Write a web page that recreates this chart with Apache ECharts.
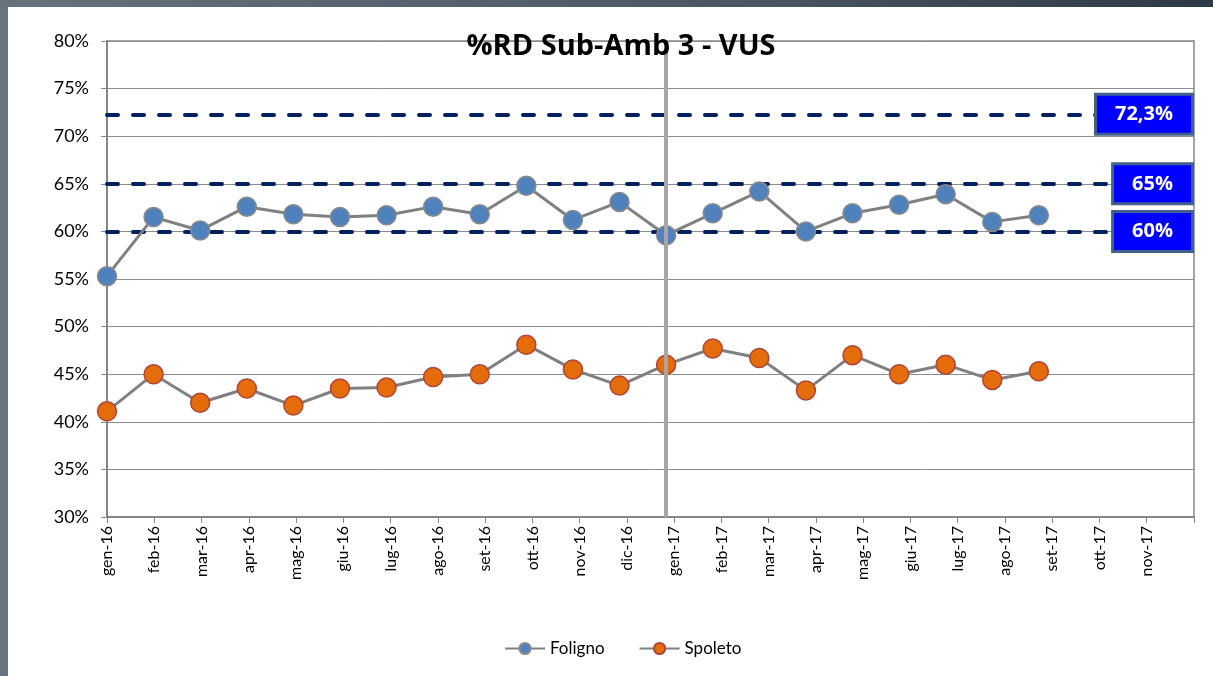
<!DOCTYPE html>
<html>
<head>
<meta charset="utf-8">
<script src="https://cdn.jsdelivr.net/npm/echarts@6/dist/echarts.min.js"></script>
<style>
  html, body { margin: 0; padding: 0; }
  body { width: 1213px; height: 676px; background: #68757f; position: relative; overflow: hidden; }
  #topbar { position: absolute; left: 0; top: 0; width: 1213px; height: 7px;
            background: linear-gradient(to right, #66727d, #4a5866 60%, #2c3a47); }
  #chart { position: absolute; left: 8px; top: 7px; width: 1205px; height: 669px; background: #fff; }
</style>
</head>
<body>
<div id="topbar"></div>
<div id="chart"></div>
<script>
// mesi sull'asse (l'ultimo slot resta vuoto)
var months = ['gen-16','feb-16','mar-16','apr-16','mag-16','giu-16','lug-16','ago-16','set-16','ott-16','nov-16','dic-16',
              'gen-17','feb-17','mar-17','apr-17','mag-17','giu-17','lug-17','ago-17','set-17','ott-17','nov-17',''];

var foligno = [55.3, 61.5, 60.1, 62.6, 61.8, 61.5, 61.7, 62.6, 61.8, 64.8, 61.2, 63.1,
               59.6, 61.9, 64.2, 60.0, 61.9, 62.8, 63.9, 61.0, 61.7];
var spoleto = [41.1, 45.0, 42.0, 43.5, 41.7, 43.5, 43.6, 44.7, 45.0, 48.1, 45.5, 43.8,
               46.0, 47.7, 46.7, 43.3, 47.0, 45.0, 46.0, 44.4, 45.3];

// soglie di riferimento
var refValues = [72.3, 65, 60];
var refLabels = ['72,3%', '65%', '60%'];

var splitMonth = 'gen-17';

function toPoints(arr) {
  return arr.map(function (v, i) { return [i, v]; });
}

var font = 'Lato, "Liberation Sans", sans-serif';
var boldFont = '"Open Sans", Lato, sans-serif';

var chart = echarts.init(document.getElementById('chart'));

var option = {
  animation: false,
  title: {
    text: '%RD Sub-Amb 3 - VUS',
    left: 608,
    textAlign: 'center',
    top: 20,
    textStyle: { fontFamily: boldFont, fontSize: 29, fontWeight: 'bold', color: '#000' }
  },
  legend: {
    bottom: 14,
    left: 491,
    itemWidth: 40,
    itemHeight: 14,
    itemGap: 34,
    textStyle: { fontFamily: font, fontSize: 17, color: '#000' },
    data: ['Foligno', 'Spoleto']
  },
  grid: {
    left: 99, right: 19, top: 34, bottom: 159,
    show: true, borderColor: '#a6a6a6', borderWidth: 2
  },
  xAxis: [
    {
      type: 'category',
      data: months,
      boundaryGap: false,
      axisLine: { lineStyle: { color: '#868686', width: 2 } },
      axisTick: { show: true, interval: 0, length: 6, lineStyle: { color: '#868686' } },
      axisLabel: { interval: 0, rotate: 90, margin: 9, fontFamily: font, fontSize: 16, color: '#000' },
      splitLine: { show: false }
    },
    {
      type: 'value',
      min: 0,
      max: 23.33,
      show: false
    }
  ],
  yAxis: {
    type: 'value',
    min: 30,
    max: 80,
    interval: 5,
    axisLine: { show: true, lineStyle: { color: '#868686', width: 2 } },
    axisTick: { show: true, length: 6, lineStyle: { color: '#868686' } },
    axisLabel: { formatter: '{value}%', margin: 18, fontFamily: font, fontSize: 18, color: '#000' },
    splitLine: { lineStyle: { color: '#8c8c8c', width: 1 } }
  },
  series: [
    {
      name: 'Foligno',
      type: 'line',
      xAxisIndex: 1,
      data: toPoints(foligno),
      symbol: 'circle',
      symbolSize: 19,
      lineStyle: { color: '#808080', width: 3 },
      itemStyle: { color: '#4f81bd', borderColor: '#8a8a8a', borderWidth: 1.5 },
      markLine: {
        z: 1,
        silent: true,
        symbol: 'none',
        lineStyle: { color: '#002060', width: 4, type: [11, 15], cap: 'round' },
        data: refValues.map(function (v, i) {
          return {
            yAxis: v,
            label: {
              show: true,
              position: 'insideEnd',
              distance: 3,
              formatter: refLabels[i],
              fontFamily: boldFont,
              fontSize: 20,
              fontWeight: 'bold',
              color: '#fff',
              backgroundColor: '#0000ff',
              borderColor: '#41608c',
              borderWidth: 3,
              padding: [9, 18, 8, 18]
            }
          };
        })
      }
    },
    {
      name: 'Spoleto',
      type: 'line',
      xAxisIndex: 1,
      data: toPoints(spoleto),
      symbol: 'circle',
      symbolSize: 19,
      lineStyle: { color: '#808080', width: 3 },
      itemStyle: { color: '#e46c0a', borderColor: '#b0453a', borderWidth: 1.5 },
      markLine: {
        z: 5,
        silent: true,
        symbol: 'none',
        label: { show: false },
        lineStyle: { color: '#a6a6a6', width: 4, type: 'solid' },
        data: [{ xAxis: months.indexOf(splitMonth) }]
      }
    }
  ]
};

chart.setOption(option);
</script>
</body>
</html>
